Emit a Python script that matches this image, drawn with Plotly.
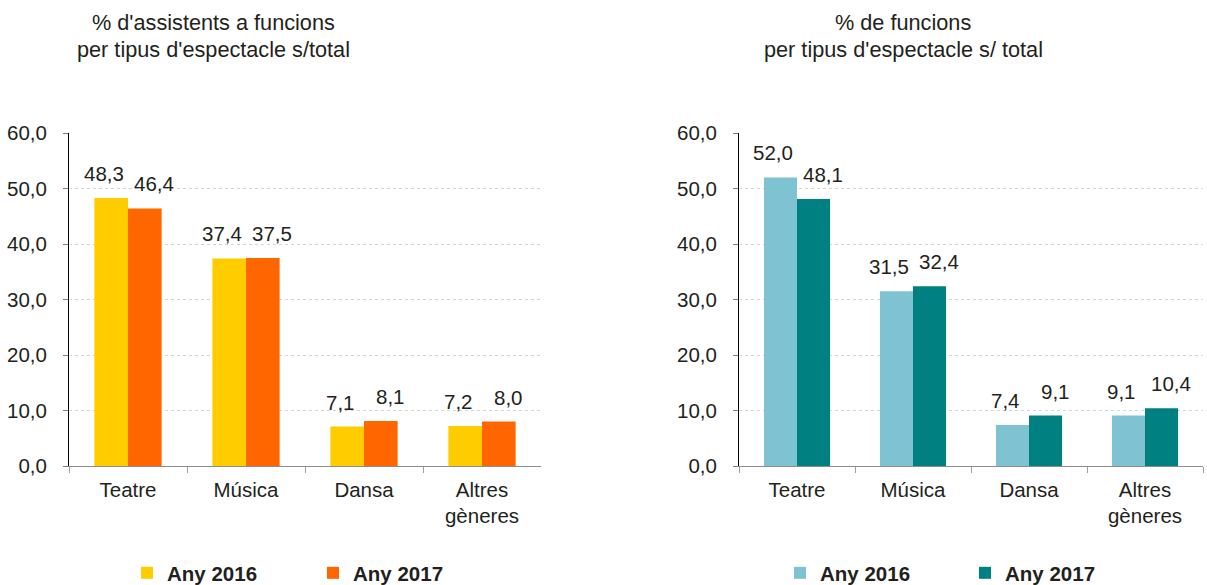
import plotly.graph_objects as go

categories = ["Teatre", "Música", "Dansa", "Altres<br>gèneres"]
series_names = ["Any 2016", "Any 2017"]
assistents_2016 = [48.3, 37.4, 7.1, 7.2]
assistents_2017 = [46.4, 37.5, 8.1, 8.0]
funcions_2016 = [52.0, 31.5, 7.4, 9.1]
funcions_2017 = [48.1, 32.4, 9.1, 10.4]
title_left = ["% d'assistents a funcions", "per tipus d'espectacle s/total"]
title_right = ["% de funcions", "per tipus d'espectacle s/ total"]
y_ticks = [0, 10, 20, 30, 40, 50, 60]

colors_left = ["#FFCC00", "#FF6600"]
colors_right = ["#7FC3D3", "#008080"]
TXT = "#231F20"
FONT = "Liberation Sans, Arial, sans-serif"
FS = 20.5

W, H = 1207, 585
fig = go.Figure()

panels = [
    ("x", "y", [assistents_2016, assistents_2017], colors_left, "legend"),
    ("x2", "y2", [funcions_2016, funcions_2017], colors_right, "legend2"),
]
for xa, ya, vals, cols, lg in panels:
    for name, v, c in zip(series_names, vals, cols):
        fig.add_trace(go.Bar(
            x=categories, y=v, name=name, marker_color=c,
            marker_line_width=0, xaxis=xa, yaxis=ya, legend=lg,
            hoverinfo="skip",
        ))

# data labels
shifts = [-24, 26]
for xa, ya, vals, cols, lg in panels:
    for v, sh in zip(vals, shifts):
        for cat, val in zip(categories, v):
            fig.add_annotation(
                x=cat, y=val, xref=xa, yref=ya, text=f"{val:.1f}".replace(".", ","),
                showarrow=False, yanchor="bottom", xanchor="center",
                xshift=sh, yshift=11, font=dict(size=FS, color=TXT, family=FONT),
            )

# titles (two lines each)
for cx, lines in [(213, title_left), (903, title_right)]:
    for cy, line in zip([23, 49], lines):
        fig.add_annotation(x=cx / W, y=1 - cy / H, xref="paper", yref="paper",
                           text=line, showarrow=False, xanchor="center", yanchor="middle",
                           font=dict(size=21.7, color=TXT, family=FONT))

ydom = [1 - 466 / H, 1 - 133 / H]
yax = dict(range=[0, 60], tickvals=y_ticks, tickformat=".1f", showgrid=True,
           gridcolor="#D4D4D4", griddash="dot", gridwidth=1,
           showline=True, linecolor="#000000", linewidth=1,
           ticks="outside", ticklen=5, tickcolor="#7F7F7F", ticklabelstandoff=12,
           tickfont=dict(size=FS, color=TXT, family=FONT), zeroline=False,
           domain=ydom, fixedrange=True, automargin=False)
xax = dict(showline=True, linecolor="#8C8C8C", linewidth=1, ticks="outside",
           tickson="boundaries", ticklen=6, tickcolor="#A0A0A0", ticklabelstandoff=5,
           tickfont=dict(size=FS, color=TXT, family=FONT), showgrid=False,
           automargin=False, fixedrange=True)

fig.update_layout(
    width=W, height=H, margin=dict(l=0, r=0, t=0, b=0, autoexpand=False),
    paper_bgcolor="white", plot_bgcolor="white",
    separators=",.",
    barmode="group", bargap=0.43, bargroupgap=0,
    font=dict(family=FONT, color=TXT),
    xaxis=dict(xax, domain=[69 / W, 541 / W], anchor="y"),
    yaxis=dict(yax, anchor="x"),
    xaxis2=dict(xax, domain=[739 / W, 1203 / W], anchor="y2"),
    yaxis2=dict(yax, anchor="x2"),
    showlegend=True,
    legend=dict(orientation="h", x=127 / W, y=1 - 573 / H, xanchor="left", yanchor="middle",
                entrywidth=141, entrywidthmode="pixels", itemclick=False,
                font=dict(size=FS, color=TXT, family=FONT, weight="bold"),
                bgcolor="rgba(0,0,0,0)"),
    legend2=dict(orientation="h", x=780 / W, y=1 - 573 / H, xanchor="left", yanchor="middle",
                 entrywidth=140, entrywidthmode="pixels", itemclick=False,
                 font=dict(size=FS, color=TXT, family=FONT, weight="bold"),
                 bgcolor="rgba(0,0,0,0)"),
)

fig.write_html("out.html", config={"displayModeBar": False},
               post_script="document.body.style.margin='0';document.body.style.overflow='hidden';")
